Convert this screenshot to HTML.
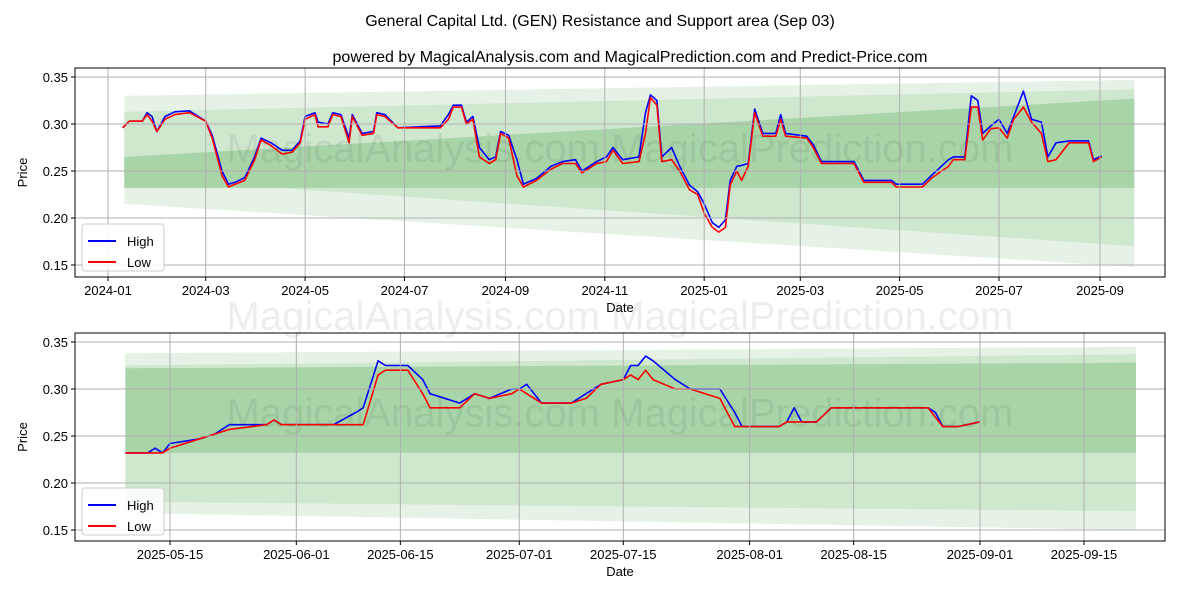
<!DOCTYPE html>
<html><head><meta charset="utf-8">
<style>
body{margin:0;background:#fff;}
svg text{font-family:"Liberation Sans","DejaVu Sans",sans-serif;}
</style></head>
<body>
<svg id="c" width="1200" height="600" xmlns="http://www.w3.org/2000/svg">
<rect width="1200" height="600" fill="#fff"/>
<defs>
<clipPath id="clipTop"><rect x="75" y="68" width="1090" height="209"/></clipPath>
<clipPath id="clipBot"><rect x="75" y="333" width="1090" height="208"/></clipPath>
</defs>
<text x="600" y="26" text-anchor="middle" font-size="16">General Capital Ltd. (GEN) Resistance and Support area (Sep 03)</text>
<text x="630" y="62" text-anchor="middle" font-size="16">powered by MagicalAnalysis.com and MagicalPrediction.com and Predict-Price.com</text>
<g id="top"></g>
<g id="bot"></g>
</svg>
<script>
// ---- data ----
const bandDates=["2024-01-11","2025-09-22"];
const botBandDates=["2025-05-09","2025-09-22"];
const bandOuterHi=[0.330,0.347], bandOuterLo=[0.215,0.148];
const bandMidHi=[0.313,0.337], bandMidLo=[0.243,0.170];
const bandInHi=[0.265,0.327], bandInLo=[0.232,0.232];
const botBandOuterHi=[0.338,0.345], botBandOuterLo=[0.168,0.150];
const botBandMidHi=[0.325,0.337], botBandMidLo=[0.180,0.170];
const botBandInHi=[0.322,0.328], botBandInLo=[0.232,0.232];

const topDates=["2024-01-10","2024-01-14","2024-01-22","2024-01-25","2024-01-28","2024-01-31","2024-02-05","2024-02-11","2024-02-20","2024-03-01","2024-03-05","2024-03-11","2024-03-15","2024-03-19","2024-03-25","2024-03-31","2024-04-04","2024-04-10","2024-04-17","2024-04-23","2024-04-28","2024-05-01","2024-05-07","2024-05-09","2024-05-15","2024-05-18","2024-05-23","2024-05-28","2024-05-30","2024-06-05","2024-06-12","2024-06-14","2024-06-19","2024-06-27","2024-07-23","2024-07-28","2024-07-31","2024-08-05","2024-08-08","2024-08-12","2024-08-16","2024-08-22","2024-08-26","2024-08-29","2024-09-03","2024-09-08","2024-09-12","2024-09-20","2024-09-29","2024-10-06","2024-10-14","2024-10-18","2024-10-27","2024-11-02","2024-11-06","2024-11-12","2024-11-22","2024-11-26","2024-11-29","2024-12-03","2024-12-06","2024-12-12","2024-12-17","2024-12-23","2024-12-28","2025-01-01","2025-01-06","2025-01-10","2025-01-14","2025-01-17","2025-01-21","2025-01-24","2025-01-28","2025-02-01","2025-02-06","2025-02-14","2025-02-17","2025-02-20","2025-03-05","2025-03-09","2025-03-14","2025-04-03","2025-04-09","2025-04-26","2025-04-29","2025-05-15","2025-05-21","2025-05-31","2025-06-03","2025-06-10","2025-06-14","2025-06-18","2025-06-21","2025-06-26","2025-07-01","2025-07-06","2025-07-10","2025-07-16","2025-07-21","2025-07-27","2025-07-31","2025-08-05","2025-08-13","2025-08-25","2025-08-28","2025-09-02"];
const topLow=[0.296,0.303,0.303,0.310,0.303,0.292,0.305,0.310,0.312,0.303,0.285,0.245,0.233,0.236,0.240,0.262,0.283,0.277,0.268,0.270,0.280,0.305,0.310,0.297,0.297,0.310,0.308,0.280,0.308,0.288,0.290,0.310,0.308,0.296,0.296,0.305,0.318,0.318,0.300,0.305,0.265,0.258,0.262,0.290,0.285,0.245,0.233,0.240,0.252,0.258,0.258,0.248,0.258,0.260,0.272,0.258,0.260,0.290,0.328,0.320,0.260,0.262,0.250,0.230,0.225,0.205,0.190,0.185,0.190,0.235,0.250,0.240,0.255,0.312,0.287,0.287,0.305,0.287,0.285,0.275,0.258,0.258,0.238,0.238,0.233,0.233,0.243,0.255,0.262,0.262,0.318,0.318,0.283,0.295,0.296,0.285,0.305,0.318,0.302,0.290,0.260,0.262,0.280,0.280,0.260,0.265];
const topHigh=[0.296,0.303,0.303,0.312,0.308,0.292,0.308,0.313,0.314,0.303,0.288,0.250,0.236,0.238,0.243,0.265,0.285,0.280,0.272,0.272,0.282,0.308,0.312,0.302,0.300,0.312,0.310,0.285,0.310,0.290,0.292,0.312,0.310,0.296,0.298,0.310,0.320,0.320,0.302,0.308,0.275,0.262,0.265,0.292,0.288,0.262,0.236,0.242,0.255,0.260,0.262,0.250,0.260,0.265,0.275,0.262,0.265,0.312,0.331,0.325,0.265,0.275,0.255,0.235,0.228,0.215,0.195,0.190,0.198,0.240,0.255,0.256,0.258,0.316,0.290,0.290,0.310,0.290,0.287,0.278,0.260,0.260,0.240,0.240,0.236,0.236,0.246,0.262,0.265,0.265,0.330,0.325,0.290,0.298,0.305,0.290,0.308,0.335,0.305,0.302,0.265,0.280,0.282,0.282,0.262,0.266];

const botDates=["2025-05-09","2025-05-12","2025-05-13","2025-05-14","2025-05-15","2025-05-19","2025-05-21","2025-05-23","2025-05-28","2025-05-29","2025-05-30","2025-06-06","2025-06-09","2025-06-10","2025-06-12","2025-06-13","2025-06-16","2025-06-18","2025-06-19","2025-06-23","2025-06-25","2025-06-27","2025-06-30","2025-07-01","2025-07-02","2025-07-04","2025-07-08","2025-07-10","2025-07-12","2025-07-15","2025-07-16","2025-07-17","2025-07-18","2025-07-19","2025-07-22","2025-07-24","2025-07-28","2025-07-30","2025-07-31","2025-08-05","2025-08-06","2025-08-07","2025-08-08","2025-08-10","2025-08-12","2025-08-25","2025-08-26","2025-08-27","2025-08-29","2025-09-01"];
const botHigh=[0.232,0.232,0.237,0.232,0.242,0.247,0.252,0.262,0.262,0.267,0.262,0.262,0.275,0.280,0.330,0.325,0.325,0.310,0.295,0.285,0.295,0.290,0.300,0.300,0.305,0.285,0.285,0.295,0.305,0.310,0.325,0.325,0.335,0.330,0.310,0.300,0.300,0.275,0.260,0.260,0.265,0.280,0.265,0.265,0.280,0.280,0.275,0.260,0.260,0.265];
const botLow=[0.232,0.232,0.232,0.232,0.237,0.247,0.252,0.257,0.262,0.267,0.262,0.262,0.262,0.262,0.315,0.320,0.320,0.295,0.280,0.280,0.295,0.290,0.295,0.300,0.295,0.285,0.285,0.290,0.305,0.310,0.315,0.310,0.320,0.310,0.300,0.300,0.290,0.260,0.260,0.260,0.265,0.265,0.265,0.265,0.280,0.280,0.270,0.260,0.260,0.265];

const topTicksX=["2024-01","2024-03","2024-05","2024-07","2024-09","2024-11","2025-01","2025-03","2025-05","2025-07","2025-09"];
const botTicksX=["2025-05-15","2025-06-01","2025-06-15","2025-07-01","2025-07-15","2025-08-01","2025-08-15","2025-09-01","2025-09-15"];
const yTicks=[0.15,0.20,0.25,0.30,0.35];

const NS="http://www.w3.org/2000/svg";
const day=s=>{const p=s.split("-").map(Number);return Date.UTC(p[0],p[1]-1,p[2]||1)/864e5;};
function mk(parent,tag,attrs){const e=document.createElementNS(NS,tag);for(const k in attrs)e.setAttribute(k,attrs[k]);parent.appendChild(e);return e;}

function panel(g,cfg){
  const {L,R,T,B,x0,x1,X0,X1,y0,y1,Y0,Y1}=cfg;
  const sx=d=>X0+(day(d)-day(x0))/(day(x1)-day(x0))*(X1-X0);
  const sy=v=>Y0+(v-y0)/(y1-y0)*(Y1-Y0);
  const clipG=mk(g,"g",{"clip-path":`url(#${cfg.clip})`});
  // bands
  const bands=[[cfg.bo,"#e6f2e6","band-outer"],[cfg.bm,"#cfe7cf","band-middle"],[cfg.bi,"#a8d5a8","band-inner"]];
  bands.forEach(([b,col,nm])=>{
    const [hi,lo]=b;
    const a=sx(cfg.bd[0]),c=sx(cfg.bd[1]);
    const p=mk(clipG,"polygon",{points:`${a},${sy(hi[0])} ${c},${sy(hi[1])} ${c},${sy(lo[1])} ${a},${sy(lo[0])}`,fill:col});
    
    
  });
  // grid + ticks
  cfg.xt.forEach(t=>{const x=sx(t);
    const l=mk(g,"line",{x1:x,x2:x,y1:T,y2:B,stroke:"#b0b0b0","stroke-width":1});
    
    mk(g,"line",{x1:x,x2:x,y1:B,y2:B+4,stroke:"#000"});
    const tx=mk(g,"text",{x:x,y:B+18,"text-anchor":"middle","font-size":"13"});tx.textContent=t;
    
  });
  yTicks.forEach(v=>{const y=sy(v);
    const l=mk(g,"line",{x1:L,x2:R,y1:y,y2:y,stroke:"#b0b0b0","stroke-width":1});
    
    mk(g,"line",{x1:L-4,x2:L,y1:y,y2:y,stroke:"#000"});
    const tx=mk(g,"text",{x:L-7,y:y+5,"text-anchor":"end","font-size":"13"});tx.textContent=v.toFixed(2);
    
  });
  // watermark
  const w=mk(g,"text",{x:(L+R)/2,y:T+(B-T)*0.45,"text-anchor":"middle","font-size":"40",fill:"#000","fill-opacity":"0.07"});
  w.textContent="MagicalAnalysis.com        MagicalPrediction.com";
  
  
  if(cfg.w2){
    const w2=mk(g,"text",{x:(L+R)/2,y:T+(B-T)*1.25,"text-anchor":"middle","font-size":"40",fill:"#000","fill-opacity":"0.07"});
    w2.textContent="MagicalAnalysis.com        MagicalPrediction.com";
    
    
  }
  // series
  [[cfg.hi,"#0000ff","high-line"],[cfg.lo,"#ff0000","low-line"]].forEach(([vals,col,nm])=>{
    const pts=cfg.d.map((d,i)=>sx(d).toFixed(1)+","+sy(vals[i]).toFixed(1)).join(" ");
    const pl=mk(clipG,"polyline",{points:pts,fill:"none",stroke:col,"stroke-width":1.6,"stroke-linejoin":"round"});
    
  });
  const fr=mk(g,"rect",{x:L,y:T,width:R-L,height:B-T,fill:"none",stroke:"#000","stroke-width":1});
  
  const xl=mk(g,"text",{x:(L+R)/2,y:B+35,"text-anchor":"middle","font-size":"13"});xl.textContent="Date";
  
  const yl=mk(g,"text",{x:0,y:0,"text-anchor":"middle","font-size":"13",transform:`translate(27,${(T+B)/2}) rotate(-90)`});yl.textContent="Price";
  
  // legend
  const lg=mk(g,"g",{});
  
  mk(lg,"rect",{x:L+7,y:B-53,width:82,height:47,rx:3,fill:"#fff","fill-opacity":"0.85",stroke:"#ccc"});
  [["High","#0000ff",B-36],["Low","#ff0000",B-15]].forEach(([n,c,y])=>{
    const e=mk(lg,"g",{});
    
    mk(e,"line",{x1:L+13,x2:L+41,y1:y,y2:y,stroke:c,"stroke-width":2});
    const t=mk(e,"text",{x:L+52,y:y+5,"font-size":"13"});t.textContent=n;
  });
}
panel(document.getElementById("top"),{L:75,R:1165,T:68,B:277,x0:"2024-01-01",x1:"2025-09-01",X0:108,X1:1100,y0:0.35,y1:0.15,Y0:77,Y1:265,clip:"clipTop",bd:bandDates,
  bo:[bandOuterHi,bandOuterLo],bm:[bandMidHi,bandMidLo],bi:[bandInHi,bandInLo],xt:topTicksX,d:topDates,hi:topHigh,lo:topLow,w2:true});
panel(document.getElementById("bot"),{L:75,R:1165,T:333,B:541,x0:"2025-05-15",x1:"2025-09-15",X0:170,X1:1084,y0:0.35,y1:0.15,Y0:342,Y1:530,clip:"clipBot",bd:botBandDates,
  bo:[botBandOuterHi,botBandOuterLo],bm:[botBandMidHi,botBandMidLo],bi:[botBandInHi,botBandInLo],xt:botTicksX,d:botDates,hi:botHigh,lo:botLow,w2:false});
</script>
</body></html>
